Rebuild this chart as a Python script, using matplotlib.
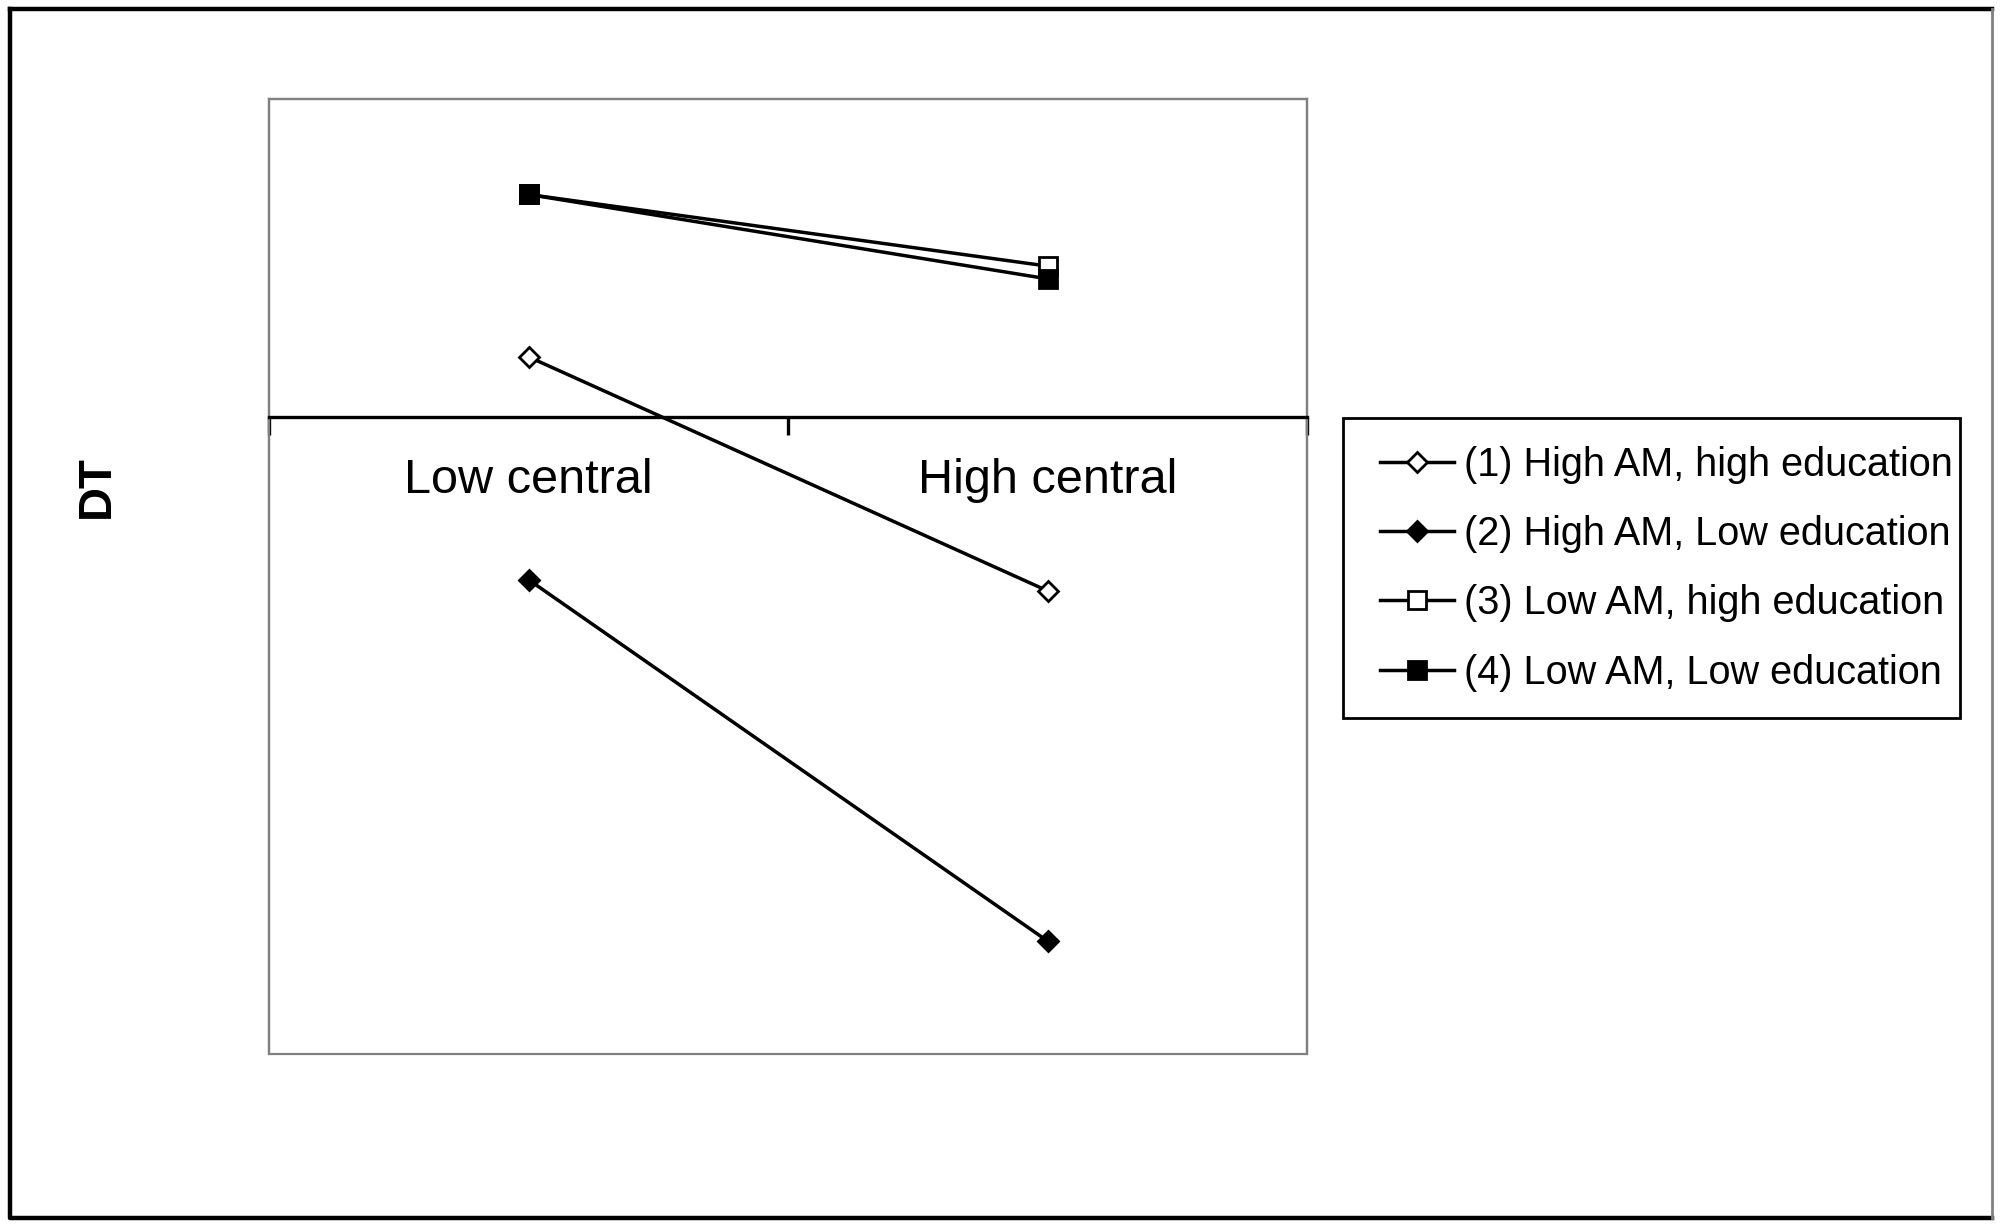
import matplotlib.pyplot as plt
from matplotlib.patches import Rectangle
from matplotlib.lines import Line2D

plt.rcParams['font.family'] = ['Liberation Sans', 'DejaVu Sans']

# data
categories = ["Low central", "High central"]
x_pos = [0.5, 1.5]
series_labels = [
    "(1) High AM, high education",
    "(2) High AM, Low education",
    "(3) Low AM, high education",
    "(4) Low AM, Low education",
]
s1 = [0.38, -1.09]
s2 = [-1.02, -3.29]
s3 = [1.40, 0.95]
s4 = [1.40, 0.87]

markers = ["D", "D", "s", "s"]
faces = ["white", "black", "white", "black"]
sizes = [10.5, 10.5, 13, 13]

fig = plt.figure(figsize=(20, 12.28), dpi=100)
ax = fig.add_axes([0.1345, 0.1417, 0.519, 0.7777])

for vals, lab, m, fc, ms in zip([s1, s2, s3, s4], series_labels, markers, faces, sizes):
    ax.plot(x_pos, vals, color="black", lw=2.5, marker=m, markersize=ms,
            markerfacecolor=fc, markeredgecolor="black", markeredgewidth=2,
            label=lab, zorder=3)

ax.set_xlim(0, 2)
ax.set_ylim(-4, 2)

# grey plot box, black axis line through zero
for side in ["left", "right", "top"]:
    ax.spines[side].set_color("#808080")
    ax.spines[side].set_linewidth(1.6)
ax.add_patch(Rectangle((0, 0), 1, 1, transform=ax.transAxes, fill=False,
                       edgecolor="#808080", lw=1.6, clip_on=False, zorder=1))
ax.spines["bottom"].set_position(("data", 0))
ax.spines["bottom"].set_color("black")
ax.spines["bottom"].set_linewidth(2.4)

ax.set_yticks([])
ax.set_xticks([0, 1, 2])
ax.set_xticklabels([])
ax.tick_params(axis="x", which="major", direction="out", length=13, width=2.4, color="black")
ax.set_xticks(x_pos, minor=True)
ax.set_xticklabels(categories, minor=True, fontsize=35)
ax.tick_params(axis="x", which="minor", length=0, pad=29)

fig.text(0.0485, 0.604, "DT", rotation=90, fontsize=34, fontweight="bold",
         ha="center", va="center")

# legend content, box drawn separately
ax.legend(loc="upper left", bbox_to_anchor=(0.676, 0.6596),
          bbox_transform=fig.transFigure, fontsize=28.5, frameon=False,
          borderaxespad=0, handlelength=1.87, handletextpad=0.25,
          labelspacing=0.79, borderpad=0.7)
fig.add_artist(Rectangle((0.6715, 0.4153), 0.3085, 0.2443, transform=fig.transFigure,
                         fill=False, edgecolor="black", lw=2))

# outer frame
fig.add_artist(Line2D([0.005, 0.005, 0.996], [0.9927, 0.0081, 0.0081],
                      transform=fig.transFigure, color="black", lw=3.2))
fig.add_artist(Line2D([0.005, 0.996], [0.9927, 0.9927],
                      transform=fig.transFigure, color="black", lw=3.2))
fig.add_artist(Line2D([0.996, 0.996], [0.0081, 0.9927],
                      transform=fig.transFigure, color="#808080", lw=2))

fig.savefig("out.png", dpi=100)
